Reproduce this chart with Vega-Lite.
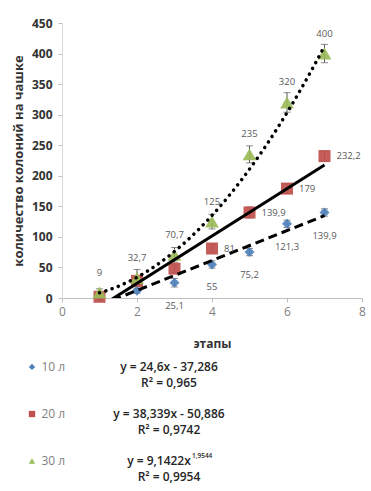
{
  "$schema": "https://vega.github.io/schema/vega-lite/v6.json",
  "padding": {"left": 12, "top": 17, "right": 2, "bottom": 0},
  "background": "white",
  "config": {"view": {"stroke": null}, "font": "Open Sans", "concat": {"spacing": 0}},
  "datasets": {
    "points": [
      {"series": "10 л", "x": 1, "y": 1, "err": 3, "label": null},
      {"series": "10 л", "x": 2, "y": 12, "err": 4, "label": null},
      {"series": "10 л", "x": 3, "y": 25.1, "err": 7, "label": "25,1"},
      {"series": "10 л", "x": 4, "y": 55, "err": 6, "label": "55"},
      {"series": "10 л", "x": 5, "y": 75.2, "err": 6, "label": "75,2"},
      {"series": "10 л", "x": 6, "y": 121.3, "err": 6, "label": "121,3"},
      {"series": "10 л", "x": 7, "y": 139.9, "err": 6, "label": "139,9"},
      {"series": "20 л", "x": 1, "y": 2, "err": 3, "label": null},
      {"series": "20 л", "x": 2, "y": 28, "err": 5, "label": null},
      {"series": "20 л", "x": 3, "y": 48, "err": 7, "label": null},
      {"series": "20 л", "x": 4, "y": 81, "err": 7, "label": "81"},
      {"series": "20 л", "x": 5, "y": 139.9, "err": 9, "label": "139,9"},
      {"series": "20 л", "x": 6, "y": 179, "err": 8, "label": "179"},
      {"series": "20 л", "x": 7, "y": 232.2, "err": 8, "label": "232,2"},
      {"series": "30 л", "x": 1, "y": 9, "err": 6, "label": "9"},
      {"series": "30 л", "x": 2, "y": 32.7, "err": 14, "label": "32,7"},
      {"series": "30 л", "x": 3, "y": 70.7, "err": 12, "label": "70,7"},
      {"series": "30 л", "x": 4, "y": 125, "err": 12, "label": "125"},
      {"series": "30 л", "x": 5, "y": 235, "err": 14, "label": "235"},
      {"series": "30 л", "x": 6, "y": 320, "err": 16, "label": "320"},
      {"series": "30 л", "x": 7, "y": 400, "err": 15, "label": "400"}
    ],
    "legend": [
      {"series": "10 л", "eq": "y = 24,6x - 37,286", "r2": "R² = 0,965", "exp": null},
      {"series": "20 л", "eq": "y = 38,339x - 50,886", "r2": "R² = 0,9742", "exp": null},
      {"series": "30 л", "eq": "y = 9,1422x", "r2": "R² = 0,9954", "exp": "1,9544"}
    ]
  },
  "vconcat": [
    {
      "width": 300,
      "height": 275,
      "data": {"name": "points"},
      "encoding": {
        "x": {
          "field": "x", "type": "quantitative",
          "scale": {"domain": [0, 8], "nice": false, "zero": false},
          "axis": {
            "values": [0, 2, 4, 6, 8], "grid": false, "title": "этапы",
            "domainColor": "#bfbfbf", "tickColor": "#bfbfbf", "tickSize": 4,
            "labelColor": "#7f7f7f", "labelFontSize": 12, "labelPadding": 4, "labelFlush": false,
            "titleColor": "#333333", "titleFontSize": 12, "titleFontWeight": "bold", "titlePadding": 21
          }
        },
        "y": {
          "field": "y", "type": "quantitative",
          "scale": {"domain": [0, 450], "nice": false},
          "axis": {
            "values": [0, 50, 100, 150, 200, 250, 300, 350, 400, 450], "grid": false,
            "title": "количество колоний  на чашке",
            "domainColor": "#d9d9d9", "tickColor": "#bfbfbf", "tickSize": 4,
            "labelColor": "#333333", "labelFontSize": 12, "labelFontWeight": "bold", "labelPadding": 6,
            "titleColor": "#333333", "titleFontSize": 13, "titleFontWeight": "bold", "titlePadding": 6
          }
        }
      },
      "layer": [
        {
          "mark": {"type": "errorbar", "color": "#595959", "thickness": 1, "ticks": {"size": 7, "color": "#595959", "thickness": 1}},
          "encoding": {"yError": {"field": "err"}}
        },
        {
          "mark": {"type": "point", "filled": true, "opacity": 0.92},
          "encoding": {
            "color": {"field": "series", "type": "nominal", "scale": {"domain": ["10 л", "20 л", "30 л"], "range": ["#4f81bd", "#c0504d", "#9bbb59"]}, "legend": null},
            "shape": {"field": "series", "type": "nominal", "scale": {"domain": ["10 л", "20 л", "30 л"], "range": ["diamond", "square", "triangle-up"]}, "legend": null},
            "size": {"field": "series", "type": "nominal", "scale": {"domain": ["10 л", "20 л", "30 л"], "range": [100, 190, 170]}, "legend": null}
          }
        },
        {
          "transform": [{"filter": "datum.series === '10 л'"}, {"regression": "y", "on": "x", "extent": [1, 7]}],
          "mark": {"type": "line", "color": "black", "strokeWidth": 3, "strokeDash": [9, 5], "clip": true}
        },
        {
          "transform": [{"filter": "datum.series === '20 л'"}, {"regression": "y", "on": "x", "extent": [1, 7]}],
          "mark": {"type": "line", "color": "black", "strokeWidth": 3, "clip": true}
        },
        {
          "transform": [{"filter": "datum.series === '30 л'"}, {"regression": "y", "on": "x", "method": "pow", "extent": [1, 7]}],
          "mark": {"type": "line", "color": "black", "strokeWidth": 3.5, "strokeDash": [0.1, 6.5], "strokeCap": "round", "clip": true}
        },
        {
          "transform": [{"filter": "datum.series === '10 л' && isValid(datum.label)"}],
          "mark": {"type": "text", "align": "center", "baseline": "middle", "dy": 23, "fontSize": 9.5, "color": "#595959"},
          "encoding": {"text": {"field": "label"}}
        },
        {
          "transform": [{"filter": "datum.series === '20 л' && isValid(datum.label)"}],
          "mark": {"type": "text", "align": "left", "baseline": "middle", "dx": 12, "fontSize": 9.5, "color": "#595959"},
          "encoding": {"text": {"field": "label"}}
        },
        {
          "transform": [{"filter": "datum.series === '30 л' && isValid(datum.label)"}],
          "mark": {"type": "text", "align": "center", "baseline": "middle", "dy": -20, "fontSize": 9.5, "color": "#595959"},
          "encoding": {"text": {"field": "label"}}
        }
      ]
    },
    {
      "width": 300,
      "height": 130,
      "data": {"name": "legend"},
      "encoding": {
        "y": {"field": "series", "type": "nominal", "scale": {"type": "point", "domain": ["10 л", "20 л", "30 л"], "padding": 0.38}, "axis": null}
      },
      "layer": [
        {
          "mark": {"type": "point", "filled": true, "size": 40, "opacity": 1},
          "encoding": {
            "x": {"datum": -0.8, "type": "quantitative", "scale": {"domain": [0, 8], "nice": false, "zero": false}, "axis": null},
            "color": {"field": "series", "type": "nominal", "scale": {"domain": ["10 л", "20 л", "30 л"], "range": ["#4f81bd", "#c0504d", "#9bbb59"]}, "legend": null},
            "shape": {"field": "series", "type": "nominal", "scale": {"domain": ["10 л", "20 л", "30 л"], "range": ["diamond", "square", "triangle-up"]}, "legend": null}
          }
        },
        {
          "mark": {"type": "text", "align": "left", "baseline": "middle", "fontSize": 12, "color": "#7f7f7f"},
          "encoding": {"x": {"datum": -0.55, "type": "quantitative"}, "text": {"field": "series"}}
        },
        {
          "transform": [{"filter": "datum.series !== '30 л'"}],
          "mark": {"type": "text", "align": "center", "baseline": "middle", "fontSize": 12, "fontWeight": 600, "color": "#262626"},
          "encoding": {"x": {"datum": 2.853, "type": "quantitative"}, "text": {"field": "eq"}}
        },
        {
          "transform": [{"filter": "datum.series === '30 л'"}],
          "mark": {"type": "text", "align": "center", "baseline": "middle", "dx": -10, "fontSize": 12, "fontWeight": 600, "color": "#262626"},
          "encoding": {"x": {"datum": 2.853, "type": "quantitative"}, "text": {"field": "eq"}}
        },
        {
          "transform": [{"filter": "isValid(datum.exp)"}],
          "mark": {"type": "text", "align": "left", "baseline": "middle", "dx": 23, "dy": -5, "fontSize": 6.5, "fontWeight": 600, "color": "#262626"},
          "encoding": {"x": {"datum": 2.853, "type": "quantitative"}, "text": {"field": "exp"}}
        },
        {
          "mark": {"type": "text", "align": "center", "baseline": "middle", "dy": 16, "fontSize": 12, "fontWeight": 600, "color": "#262626"},
          "encoding": {"x": {"datum": 2.853, "type": "quantitative"}, "text": {"field": "r2"}}
        }
      ]
    }
  ]
}
